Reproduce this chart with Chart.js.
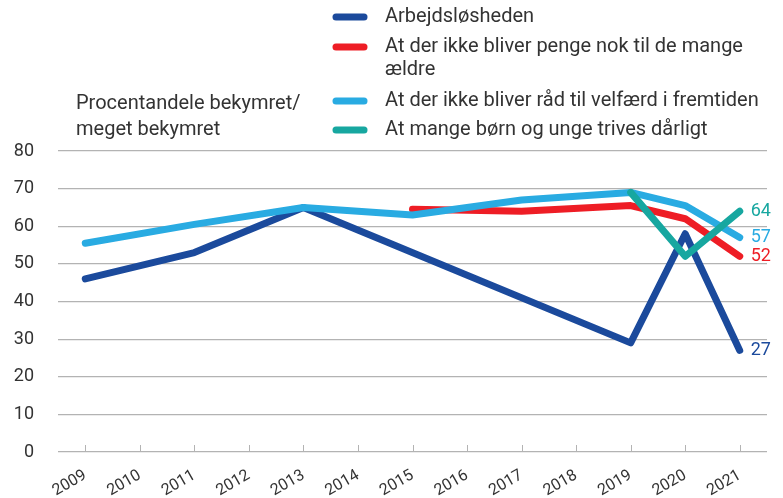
<!DOCTYPE html>
<html>
<head>
<meta charset="utf-8">
<script src="https://cdn.jsdelivr.net/npm/chart.js@4"></script>
<style>
  html, body { margin: 0; padding: 0; background: #fff; }
  #wrap { width: 783px; height: 498px; position: relative; }
</style>
</head>
<body>
<div id="wrap"><canvas id="chart"></canvas></div>
<script>
"use strict";

// ── Data ─────────────────────────────────────────────────────────────────────

const years = ["2009","2010","2011","2012","2013","2014","2015","2016","2017","2018","2019","2020","2021"];

const unemployment = [46, null, 53, null, 65, null, null, null, null, null, 29, 58, 27];
const pensions     = [null, null, null, null, null, null, 64.5, null, 64, null, 65.5, 62, 52];
const welfare      = [55.5, null, 60.5, null, 65, null, 63, null, 67, null, 69, 65.5, 57];
const youth        = [null, null, null, null, null, null, null, null, null, null, 69, 52, 64];

const seriesNames = [
  "Arbejdsløsheden",
  "At der ikke bliver penge nok til de mange\nældre",
  "At der ikke bliver råd til velfærd i fremtiden",
  "At mange børn og unge trives dårligt",
];

const yTitle = ["Procentandele bekymret/", "meget bekymret"];

const COLORS = ["#1b4a9c", "#ee1d25", "#29abe2", "#17a7a0"];
const FONT = 'Roboto, "Open Sans", sans-serif';
const TEXT = "#333333";

// ── Plugins ──────────────────────────────────────────────────────────────────

const bottomTicks = {
  id: "bottomTicks",
  beforeDatasetsDraw(chart) {
    const { ctx, chartArea, scales } = chart;
    ctx.save();
    ctx.strokeStyle = "#b3b3b3";
    ctx.lineWidth = 1;
    years.forEach((_, i) => {
      const x = Math.round(scales.x.getPixelForValue(i)) + 0.5;
      ctx.beginPath();
      ctx.moveTo(x, chartArea.bottom - 7);
      ctx.lineTo(x, chartArea.bottom);
      ctx.stroke();
    });
    ctx.restore();
  },
};

const endLabels = {
  id: "endLabels",
  afterDatasetsDraw(chart) {
    const { ctx } = chart;
    ctx.save();
    ctx.font = `18px ${FONT}`;
    ctx.textBaseline = "middle";
    ctx.textAlign = "left";
    chart.data.datasets.forEach((ds, i) => {
      const meta = chart.getDatasetMeta(i);
      const last = ds.data.length - 1;
      const pt = meta.data[last];
      ctx.fillStyle = ds.borderColor;
      ctx.fillText(String(Math.round(ds.data[last])), pt.x + 11, pt.y);
    });
    ctx.restore();
  },
};

const legendAndTitle = {
  id: "legendAndTitle",
  afterDraw(chart) {
    const { ctx } = chart;
    ctx.save();
    ctx.font = `20px ${FONT}`;
    ctx.textBaseline = "middle";
    ctx.fillStyle = TEXT;

    // y axis title
    ctx.fillText(yTitle[0], 76, 104);
    ctx.fillText(yTitle[1], 76, 130);

    // legend
    const rows = [17, 47, 101, 130];
    seriesNames.forEach((name, i) => {
      const y = rows[i];
      ctx.strokeStyle = COLORS[i];
      ctx.lineWidth = 7;
      ctx.lineCap = "round";
      ctx.beginPath();
      ctx.moveTo(336, y);
      ctx.lineTo(364, y);
      ctx.stroke();
      ctx.fillStyle = TEXT;
      name.split("\n").forEach((line, j) => ctx.fillText(line, 385, y + j * 23));
    });
    ctx.restore();
  },
};

// ── Chart ────────────────────────────────────────────────────────────────────

function lineSet(label, data, color, order) {
  return {
    label,
    data,
    borderColor: color,
    backgroundColor: color,
    borderWidth: 7,
    borderCapStyle: "round",
    borderJoinStyle: "round",
    pointRadius: 0,
    tension: 0,
    spanGaps: true,
    order,
  };
}

new Chart(document.getElementById("chart"), {
  type: "line",
  data: {
    labels: years,
    datasets: [
      lineSet(seriesNames[0], unemployment, COLORS[0], 3),
      lineSet(seriesNames[1], pensions, COLORS[1], 2),
      lineSet(seriesNames[2], welfare, COLORS[2], 1),
      lineSet(seriesNames[3], youth, COLORS[3], 0),
    ],
  },
  options: {
    responsive: true,
    maintainAspectRatio: false,
    animation: false,
    layout: { padding: { top: 151, right: 16, left: 0, bottom: 0 } },
    plugins: {
      legend: { display: false },
      tooltip: { enabled: false },
    },
    scales: {
      x: {
        offset: true,
        grid: { display: false },
        border: { display: false },
        ticks: {
          font: { family: FONT, size: 16 },
          color: TEXT,
          minRotation: 30,
          maxRotation: 30,
          padding: 6,
        },
        afterFit: (s) => { s.height = 46; },
      },
      y: {
        min: 0,
        max: 80,
        ticks: {
          stepSize: 10,
          font: { family: FONT, size: 18 },
          color: TEXT,
          padding: 24,
        },
        grid: { color: "#b3b3b3", lineWidth: 1.2, drawTicks: false },
        border: { display: false },
        afterFit: (s) => { s.width = 58; },
      },
    },
  },
  plugins: [bottomTicks, endLabels, legendAndTitle],
});
</script>
</body>
</html>
